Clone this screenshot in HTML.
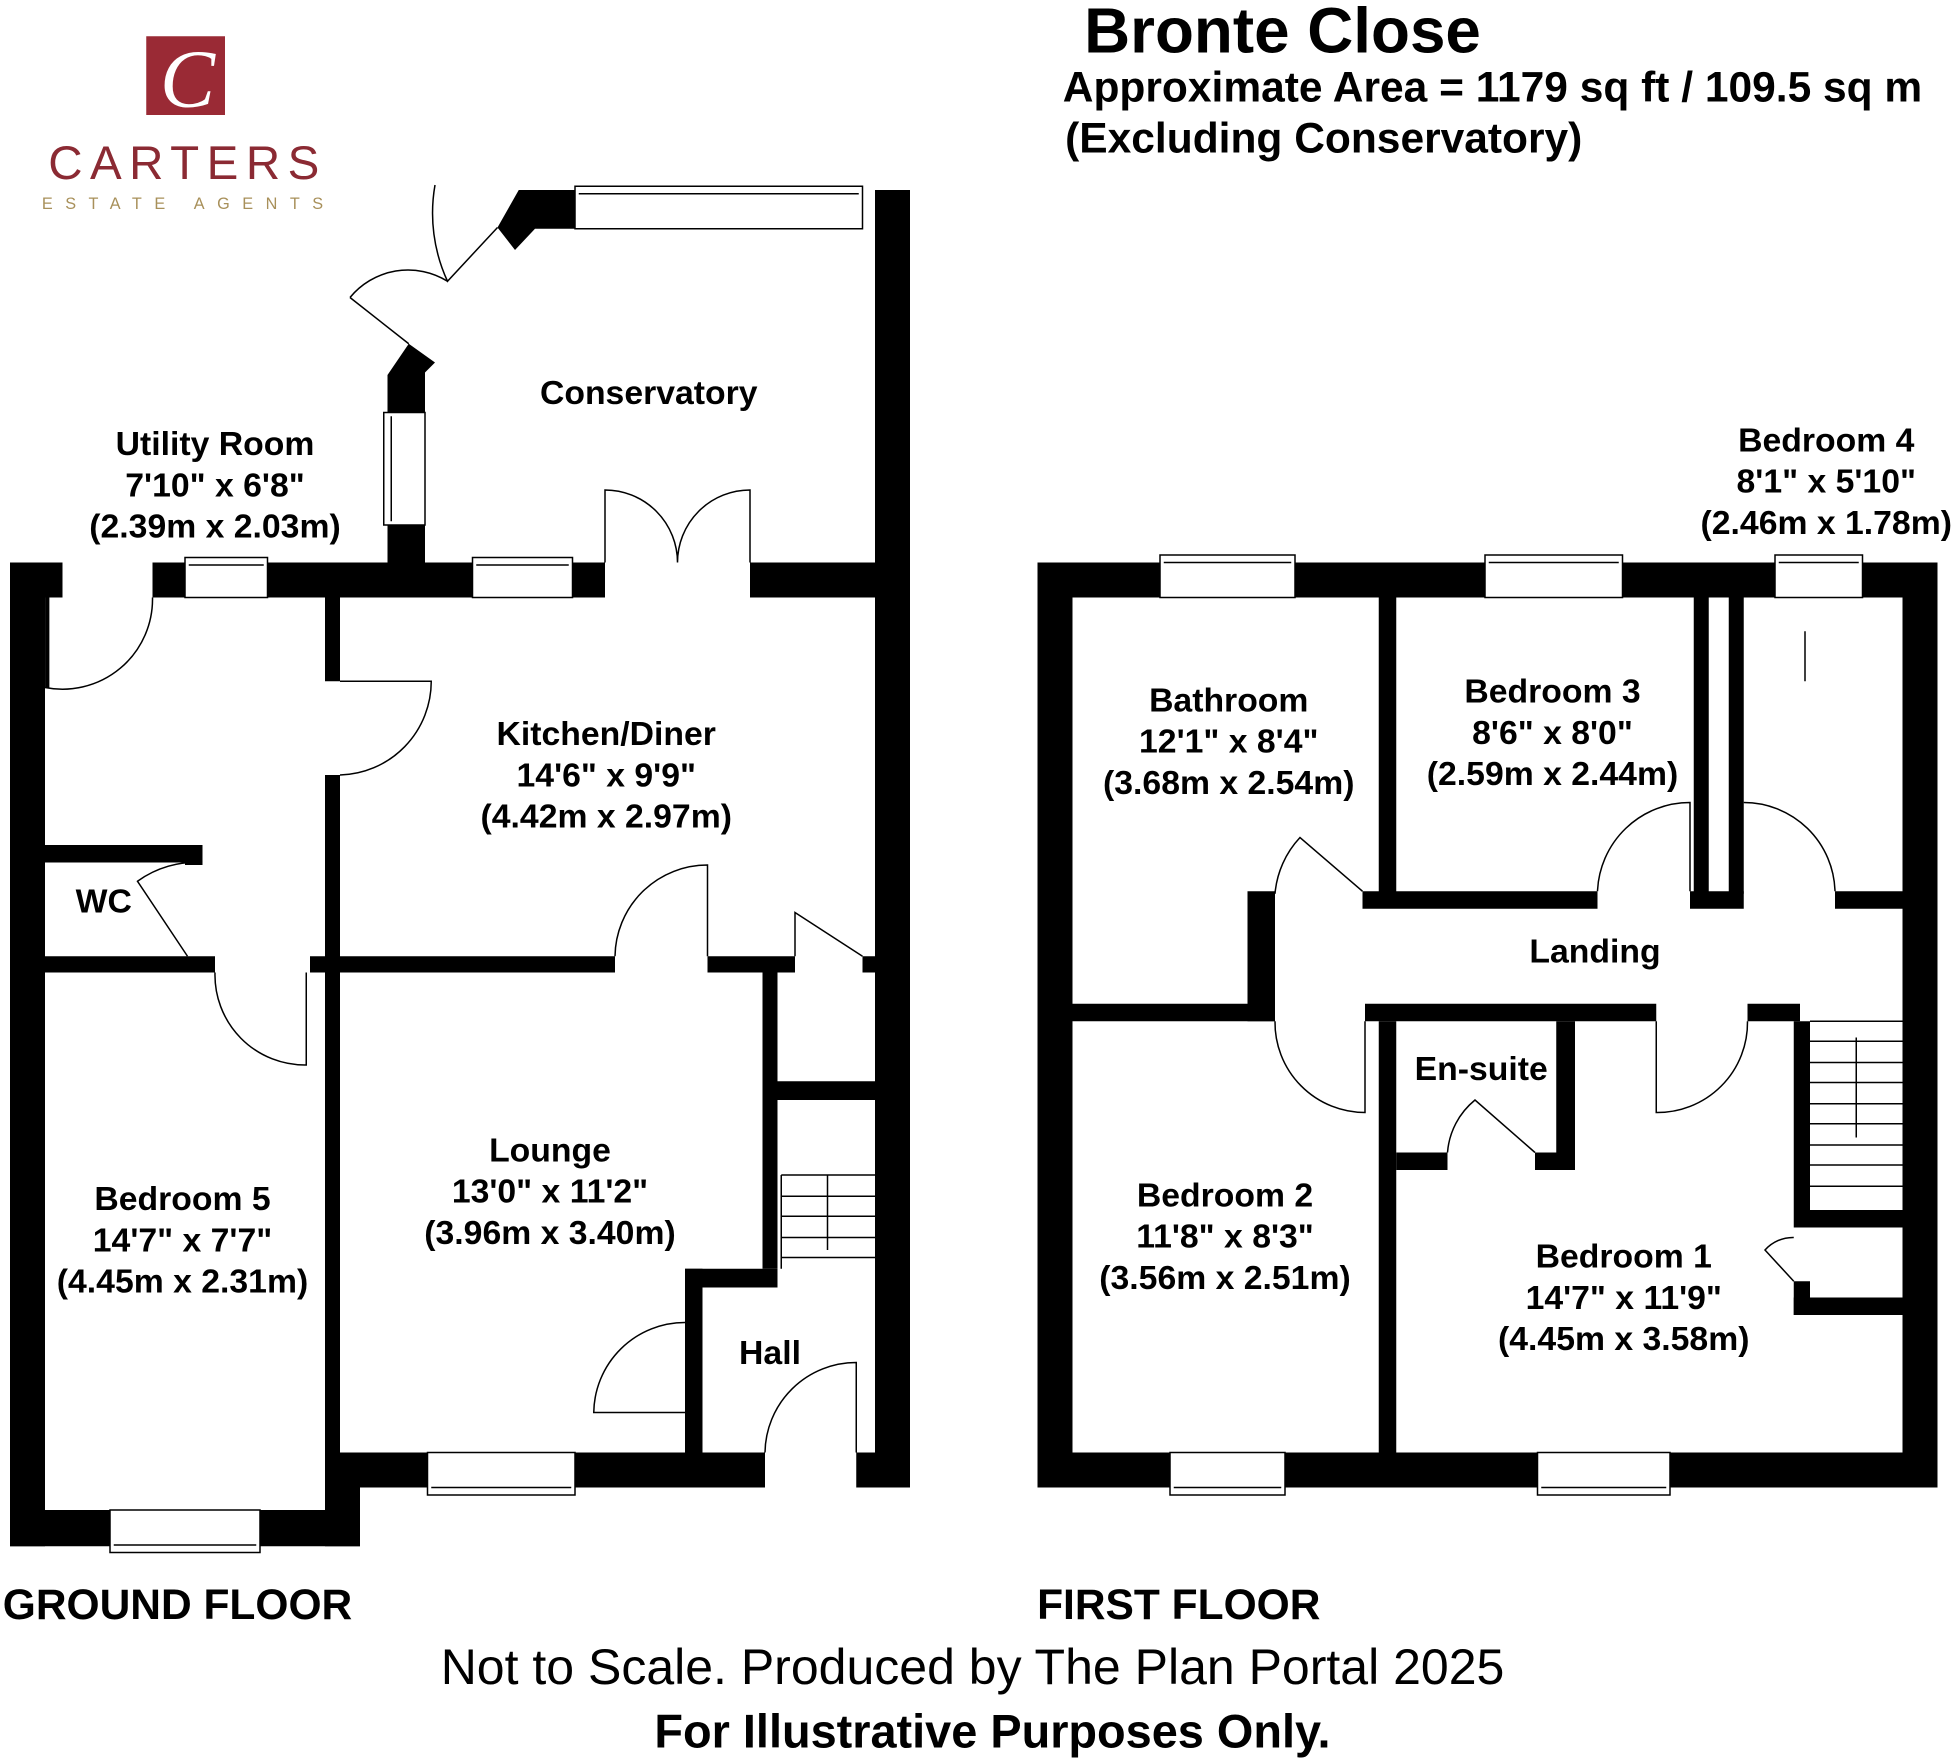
<!DOCTYPE html>
<html><head><meta charset="utf-8"><style>
html,body{margin:0;padding:0;background:#fff;}
svg{display:block;}
text{font-family:"Liberation Sans",Arial,sans-serif;font-weight:bold;fill:#000;text-anchor:middle;}
</style></head><body>
<svg width="1955" height="1760" viewBox="0 0 1564 1408" xmlns="http://www.w3.org/2000/svg">
<rect width="1564" height="1408" fill="#fff"/>
<!-- logo -->
<rect x="117" y="29" width="63" height="63" fill="#9a2a35"/>
<text x="150" y="85" style="font-family:'Liberation Serif',serif;font-style:italic;font-size:66px;fill:#fff;font-weight:normal">C</text>
<text x="150" y="143" style="font-size:38px;font-weight:normal;fill:#8b2a33;letter-spacing:6px">CARTERS</text>
<text x="151" y="167" style="font-size:13px;font-weight:normal;fill:#a8905a;letter-spacing:10px">ESTATE AGENTS</text>
<!-- title -->
<text x="1026" y="42" style="font-size:51px">Bronte Close</text>
<text x="1194" y="81" style="font-size:34px">Approximate Area = 1179 sq ft / 109.5 sq m</text>
<text x="1059" y="122" style="font-size:34px">(Excluding Conservatory)</text>

<g fill="#000">
<rect x="8" y="450" width="28" height="787"/>
<rect x="8" y="450" width="42" height="28"/>
<rect x="122" y="450" width="26" height="28"/>
<rect x="214" y="450" width="164" height="28"/>
<rect x="310" y="420" width="30" height="30"/>
<polygon points="310,330 340,330 340,298 348,290 327,275 310,300"/>
<rect x="458" y="450" width="26" height="28"/>
<rect x="600" y="450" width="128" height="28"/>
<rect x="700" y="152" width="28" height="1038"/>
<polygon points="415,152 460,152 460,183 428,183 412,200 398,182"/>
<rect x="8" y="1208" width="80" height="29"/>
<rect x="208" y="1208" width="80" height="29"/>
<rect x="260" y="1162" width="28" height="75"/>
<rect x="260" y="1162" width="82" height="28"/>
<rect x="460" y="1162" width="152" height="28"/>
<rect x="685" y="1162" width="43" height="28"/>
<rect x="260" y="478" width="12" height="67"/>
<rect x="260" y="620" width="12" height="542"/>
<rect x="36" y="765" width="136" height="13"/>
<rect x="248" y="765" width="244" height="13"/>
<rect x="566" y="765" width="70" height="13"/>
<rect x="690" y="765" width="10" height="13"/>
<rect x="36" y="676" width="126" height="14"/>
<rect x="148" y="676" width="14" height="16"/>
<rect x="610" y="778" width="12" height="237"/>
<rect x="548" y="1015" width="74" height="15"/>
<rect x="548" y="1015" width="14" height="147"/>
<rect x="622" y="865" width="78" height="15"/>
<rect x="830" y="450" width="28" height="740"/>
<rect x="830" y="450" width="98" height="28"/>
<rect x="1036" y="450" width="152" height="28"/>
<rect x="1298" y="450" width="122" height="28"/>
<rect x="1490" y="450" width="60" height="28"/>
<rect x="1522" y="450" width="28" height="740"/>
<rect x="830" y="1162" width="106" height="28"/>
<rect x="1028" y="1162" width="202" height="28"/>
<rect x="1336" y="1162" width="214" height="28"/>
<rect x="1103" y="478" width="14" height="237"/>
<rect x="1355" y="478" width="12" height="237"/>
<rect x="1383" y="478" width="12" height="237"/>
<rect x="1090" y="713" width="188" height="14"/>
<rect x="1352" y="713" width="43" height="14"/>
<rect x="1468" y="713" width="54" height="14"/>
<rect x="858" y="803" width="162" height="14"/>
<rect x="998" y="713" width="22" height="104"/>
<rect x="1092" y="803" width="233" height="14"/>
<rect x="1398" y="803" width="42" height="14"/>
<rect x="1103" y="817" width="14" height="345"/>
<rect x="1117" y="922" width="41" height="14"/>
<rect x="1228" y="922" width="32" height="14"/>
<rect x="1245" y="817" width="15" height="119"/>
<rect x="1435" y="817" width="13" height="151"/>
<rect x="1435" y="968" width="87" height="14"/>
<rect x="1435" y="1025" width="13" height="27"/>
<rect x="1435" y="1038" width="87" height="14"/>
</g>

<g fill="#fff" stroke="#000" stroke-width="1.2">
<rect x="148" y="446" width="66" height="32"/><line x1="151" y1="452" x2="211" y2="452"/>
<rect x="378" y="446" width="80" height="32"/><line x1="381" y1="452" x2="455" y2="452"/>
<rect x="460" y="149" width="230" height="34"/><line x1="463" y1="155" x2="687" y2="155"/>
<rect x="307" y="330" width="33" height="90"/><line x1="313" y1="333" x2="313" y2="417"/>
<rect x="88" y="1208" width="120" height="34"/><line x1="91" y1="1236" x2="205" y2="1236"/>
<rect x="342" y="1162" width="118" height="34"/><line x1="345" y1="1190" x2="457" y2="1190"/>
<rect x="928" y="444" width="108" height="34"/><line x1="931" y1="450" x2="1033" y2="450"/>
<rect x="1188" y="444" width="110" height="34"/><line x1="1191" y1="450" x2="1295" y2="450"/>
<rect x="1420" y="444" width="70" height="34"/><line x1="1423" y1="450" x2="1487" y2="450"/>
<rect x="936" y="1162" width="92" height="34"/><line x1="939" y1="1190" x2="1025" y2="1190"/>
<rect x="1230" y="1162" width="106" height="34"/><line x1="1233" y1="1190" x2="1333" y2="1190"/>
</g>

<g fill="none" stroke="#000" stroke-width="1.2">
<path d="M36,478 L36,550 M36,550 A72,72 0 0 0 122,478"/>
<line x1="38" y1="478" x2="38" y2="550" stroke-width="3"/>
<path d="M272,545 L345,545 A75,75 0 0 1 272,620"/>
<path d="M484,450 L484,392 A58,58 0 0 1 542,450 M600,450 L600,392 A58,58 0 0 0 542,450"/>
<path d="M348,148 A130,130 0 0 0 358,225 L398,182"/>
<path d="M280,238 A60,60 0 0 1 358,225 M280,238 L327,275"/>
<path d="M492,765 A74,74 0 0 1 566,692 L566,765"/>
<path d="M636,765 L636,730 L690,765"/>
<path d="M162,690 A80,80 0 0 0 110,705 L150,765"/>
<path d="M172,778 A72,72 0 0 0 245,852 L245,778"/>
<path d="M548,1130 L475,1130 A73,73 0 0 1 548,1058"/>
<path d="M612,1162 A73,73 0 0 1 685,1090 L685,1162"/>
<path d="M1090,713 L1040,670 A75,75 0 0 0 1020,715"/>
<path d="M1278,713 A74,74 0 0 1 1352,642 L1352,713"/>
<path d="M1395,642 A73,73 0 0 1 1468,713"/>
<path d="M1020,817 A72,72 0 0 0 1092,890 L1092,817"/>
<path d="M1325,817 L1325,890 A72,72 0 0 0 1398,817"/>
<path d="M1158,922 A60,60 0 0 1 1180,880 L1228,922"/>
<path d="M1435,1025 L1412,1000 A30,30 0 0 1 1435,990"/>
<path d="M625,940 L700,940 M625,957 L700,957 M625,973 L700,973 M625,990 L700,990 M625,1006 L700,1006 M662,940 L662,1000 M625,940 L625,1015"/>
<path d="M1448,817 L1522,817 M1448,833 L1522,833 M1448,850 L1522,850 M1448,866 L1522,866 M1448,883 L1522,883 M1448,899 L1522,899 M1448,916 L1522,916 M1448,932 L1522,932 M1448,949 L1522,949 M1485,830 L1485,910"/>
<path d="M1444,505 L1444,545"/>
</g>

<g style="font-size:27px">
<text x="172" y="364">Utility Room</text><text x="172" y="397">7'10" x 6'8"</text><text x="172" y="430">(2.39m x 2.03m)</text>
<text x="519" y="323">Conservatory</text>
<text x="485" y="596">Kitchen/Diner</text><text x="485" y="629">14'6" x 9'9"</text><text x="485" y="662">(4.42m x 2.97m)</text>
<text x="83" y="730">WC</text>
<text x="146" y="968">Bedroom 5</text><text x="146" y="1001">14'7" x 7'7"</text><text x="146" y="1034">(4.45m x 2.31m)</text>
<text x="440" y="929">Lounge</text><text x="440" y="962">13'0" x 11'2"</text><text x="440" y="995">(3.96m x 3.40m)</text>
<text x="616" y="1091">Hall</text>
<text x="983" y="569">Bathroom</text><text x="983" y="602">12'1" x 8'4"</text><text x="983" y="635">(3.68m x 2.54m)</text>
<text x="1242" y="562">Bedroom 3</text><text x="1242" y="595">8'6" x 8'0"</text><text x="1242" y="628">(2.59m x 2.44m)</text>
<text x="1461" y="361">Bedroom 4</text><text x="1461" y="394">8'1" x 5'10"</text><text x="1461" y="427">(2.46m x 1.78m)</text>
<text x="1276" y="770">Landing</text>
<text x="1185" y="864">En-suite</text>
<text x="980" y="965">Bedroom 2</text><text x="980" y="998">11'8" x 8'3"</text><text x="980" y="1031">(3.56m x 2.51m)</text>
<text x="1299" y="1014">Bedroom 1</text><text x="1299" y="1047">14'7" x 11'9"</text><text x="1299" y="1080">(4.45m x 3.58m)</text>
</g>
<text x="142" y="1295" style="font-size:34px">GROUND FLOOR</text>
<text x="943" y="1295" style="font-size:34px">FIRST FLOOR</text>
<text x="778" y="1347" style="font-size:40px;font-weight:normal">Not to Scale. Produced by The Plan Portal 2025</text>
<text x="794" y="1398" style="font-size:37.5px">For Illustrative Purposes Only.</text>
</svg>
</body></html>
